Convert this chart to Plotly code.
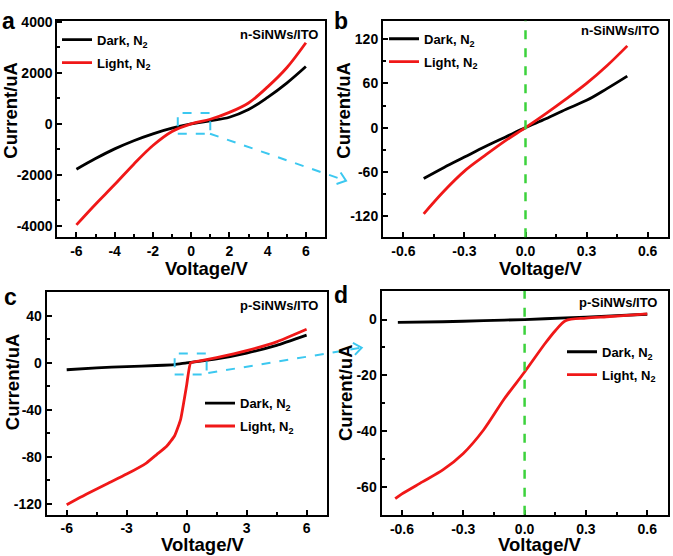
import math
import plotly.graph_objects as go

W, H = 673, 556

# ---------------- data ----------------
# panel a: n-SiNWs/ITO, wide sweep
a_volt = [-6, -5, -4, -3, -2, -1, 0, 1, 2, 3, 4, 5, 6]
a_dark = [-1780, -1360, -980, -660, -390, -170, 0, 120, 260, 560, 1040, 1600, 2250]
a_light = [-3960, -3150, -2380, -1580, -850, -300, 0, 180, 450, 820, 1450, 2200, 3180]

# panel b: n-SiNWs/ITO, zoom
b_volt = [-0.5, -0.4, -0.3, -0.2, -0.1, 0.0, 0.1, 0.2, 0.3, 0.4, 0.5]
b_dark = [-69, -54, -40, -26, -13, 0, 12, 25, 37, 53, 70]
b_light = [-117, -86, -59, -38, -18, 0, 19, 39, 60, 84, 111]

# panel c: p-SiNWs/ITO, wide sweep
c_dark_volt = [-6, -4.5, -3, -1.5, -0.6, 0, 0.6, 1.5, 3, 4.5, 6]
c_dark = [-5.9, -4.3, -3.2, -2.3, -1.5, 0, 1.2, 3.3, 8.3, 14.8, 23.5]
c_light_volt = [-6, -5, -4, -3, -2, -1.5, -1, -0.6, -0.3, 0, 0.2, 0.6, 1.5, 3, 4.5, 6]
c_light = [-120.6, -111.5, -103, -94.6, -85, -78, -71, -62, -48, -19, 0, 1.5, 4.5, 10.4, 17.8, 28.5]

# panel d: p-SiNWs/ITO, zoom
d_dark_volt = [-0.62, -0.4, -0.2, 0.0, 0.2, 0.4, 0.6]
d_dark = [-1.0, -0.8, -0.4, 0.0, 0.6, 1.2, 1.9]
d_light_volt = [-0.633, -0.6, -0.5, -0.4, -0.3, -0.2, -0.1, 0.0, 0.1, 0.15, 0.2, 0.3, 0.4, 0.5, 0.6]
d_light = [-64.2, -62.5, -58.2, -53.9, -48, -39.5, -28.5, -18.8, -8.6, -4, -0.4, 0.5, 1.0, 1.5, 2.0]

# tick values / labels
a_xticks = [-6, -4, -2, 0, 2, 4, 6]
a_xlabels = ["-6", "-4", "-2", "0", "2", "4", "6"]
a_yticks = [-4000, -2000, 0, 2000, 4000]
a_ylabels = ["-4000", "-2000", "0", "2000", "4000"]
b_xticks = [-0.6, -0.3, 0.0, 0.3, 0.6]
b_xlabels = ["-0.6", "-0.3", "0.0", "0.3", "0.6"]
b_yticks = [-120, -60, 0, 60, 120]
b_ylabels = ["-120", "-60", "0", "60", "120"]
c_xticks = [-6, -3, 0, 3, 6]
c_xlabels = ["-6", "-3", "0", "3", "6"]
c_yticks = [-120, -80, -40, 0, 40]
c_ylabels = ["-120", "-80", "-40", "0", "40"]
d_xticks = [-0.6, -0.3, 0.0, 0.3, 0.6]
d_xlabels = ["-0.6", "-0.3", "0.0", "0.3", "0.6"]
d_yticks = [-60, -40, -20, 0]
d_ylabels = ["-60", "-40", "-20", "0"]

series_names = ["Dark, N<sub>2</sub>", "Light, N<sub>2</sub>"]
sample_labels = ["n-SiNWs/ITO", "n-SiNWs/ITO", "p-SiNWs/ITO", "p-SiNWs/ITO"]
panel_letters = ["a", "b", "c", "d"]

# ---------------- style ----------------
FONT = "Liberation Sans, Arial, sans-serif"
BLACK = "#000000"
RED = "#f01818"
CYAN = "#3cc8f0"
GREEN = "#3cd23c"


def px(x):
    return x / W


def py(y):
    return 1 - y / H


fig = go.Figure()

panels = [
    ("x", "y", "legend", a_volt, a_dark, a_volt, a_light, 1.0),
    ("x2", "y2", "legend2", b_volt, b_dark, b_volt, b_light, 1.0),
    ("x3", "y3", "legend3", c_dark_volt, c_dark, c_light_volt, c_light, 0.4),
    ("x4", "y4", "legend4", d_dark_volt, d_dark, d_light_volt, d_light, 0.8),
]
for i, (xa, ya, lg, xd, yd, xl, yl, sm) in enumerate(panels):
    fig.add_trace(go.Scatter(x=xd, y=yd, mode="lines", name=series_names[0],
                             line=dict(color=BLACK, width=2.8, shape="spline", smoothing=sm),
                             xaxis=xa, yaxis=ya, legend=lg, legendgroup=f"d{i}"))
    fig.add_trace(go.Scatter(x=xl, y=yl, mode="lines", name=series_names[1],
                             line=dict(color=RED, width=2.8, shape="spline", smoothing=sm),
                             xaxis=xa, yaxis=ya, legend=lg, legendgroup=f"l{i}"))

# domains in pixels (left, right, top, bottom)
dom = {
    1: (57.3, 325.0, 14.0, 233.3),
    2: (383.0, 668.0, 14.0, 233.3),
    3: (46.7, 326.6, 288.3, 514.0),
    4: (381.5, 667.7, 287.7, 514.3),
}
xr = {1: [-7, 7], 2: [-0.7, 0.7], 3: [-7, 7], 4: [-0.7, 0.7]}
yr = {1: [-4450, 4040], 2: [-149, 145], 3: [-129, 60.5], 4: [-70, 10.2]}
xt = {1: (a_xticks, a_xlabels, 1), 2: (b_xticks, b_xlabels, 0.15),
      3: (c_xticks, c_xlabels, 1.5), 4: (d_xticks, d_xlabels, 0.15)}
yt = {1: (a_yticks, a_ylabels, 1000), 2: (b_yticks, b_ylabels, 30),
      3: (c_yticks, c_ylabels, 20), 4: (d_yticks, d_ylabels, 10)}

tickfont = dict(family=FONT, size=14, color=BLACK, weight="bold")
common = dict(showline=True, mirror=True, linecolor=BLACK, linewidth=2,
              ticks="inside", ticklen=5, tickwidth=1.5, tickcolor=BLACK,
              showgrid=False, zeroline=False, tickfont=tickfont, fixedrange=True)

layout = {}
for k in range(1, 5):
    l, r, t, b = dom[k]
    sx = "" if k == 1 else str(k)
    tv, tt, mdt = xt[k]
    layout[f"xaxis{sx}"] = dict(domain=[px(l), px(r)], range=xr[k], anchor=f"y{sx}",
                                tickmode="array", tickvals=tv, ticktext=tt,
                                minor=dict(tickmode="linear", tick0=0, dtick=mdt, ticks="inside",
                                           ticklen=3, tickwidth=1.5, tickcolor=BLACK),
                                **common)
    tv, tt, mdt = yt[k]
    layout[f"yaxis{sx}"] = dict(domain=[py(b), py(t)], range=yr[k], anchor=f"x{sx}",
                                tickmode="array", tickvals=tv, ticktext=tt,
                                minor=dict(tickmode="linear", tick0=0, dtick=mdt, ticks="inside",
                                           ticklen=3, tickwidth=1.5, tickcolor=BLACK),
                                **common)

legfont = dict(family=FONT, size=13, color=BLACK, weight="bold")
leg_pos = {"legend": (57, 18), "legend2": (384, 17), "legend3": (200, 386), "legend4": (562, 334)}
for name, (lx, ly) in leg_pos.items():
    layout[name] = dict(x=px(lx), y=py(ly), xanchor="left", yanchor="top",
                        bgcolor="rgba(0,0,0,0)", borderwidth=0, font=legfont,
                        tracegroupgap=3, itemclick=False, itemdoubleclick=False)

fig.update_layout(width=W, height=H, margin=dict(l=0, r=0, t=0, b=0),
                  paper_bgcolor="white", plot_bgcolor="white", showlegend=True,
                  **layout)

annotations = []
for letter, (lx, ly) in zip(panel_letters, [(8, 14), (341, 14), (10, 294), (341, 292)]):
    annotations.append(dict(text=letter, x=px(lx), y=py(ly), xref="paper", yref="paper",
                            xanchor="center", yanchor="middle", showarrow=False,
                            font=dict(family=FONT, size=23, color=BLACK, weight="bold")))
for lab, (lx, ly) in zip(sample_labels, [(320, 28), (661, 24), (320, 302), (659, 299)]):
    annotations.append(dict(text=lab, x=px(lx), y=py(ly), xref="paper", yref="paper",
                            xanchor="right", yanchor="middle", showarrow=False,
                            font=dict(family=FONT, size=13, color=BLACK, weight="bold")))
titlefont = dict(family=FONT, size=18.5, color=BLACK, weight="bold")
for (lx, ly) in [(207, 265), (541, 265), (203, 544), (540, 544)]:
    annotations.append(dict(text="Voltage/V", x=px(lx), y=py(ly), xref="paper", yref="paper",
                            xanchor="center", yanchor="middle", showarrow=False, font=titlefont))
for (lx, ly) in [(11, 105), (344, 105), (12, 380), (345, 390)]:
    annotations.append(dict(text="Current/uA", x=px(lx), y=py(ly), xref="paper", yref="paper",
                            xanchor="center", yanchor="middle", textangle=-90,
                            showarrow=False, font=titlefont))
fig.update_layout(annotations=annotations)

shapes = []
for xa, ya in [("x2", "y2"), ("x4", "y4")]:
    shapes.append(dict(type="line", xref=xa, yref=f"{ya} domain", x0=0, x1=0, y0=0, y1=1,
                       line=dict(color=GREEN, width=2.5, dash="dash")))
shapes.append(dict(type="rect", xref="x", yref="y", x0=-0.7, x1=1.0, y0=-390, y1=425,
                   line=dict(color=CYAN, width=2, dash="dash")))
shapes.append(dict(type="rect", xref="x3", yref="y3", x0=-0.6, x1=1.0, y0=-10, y1=8,
                   line=dict(color=CYAN, width=2, dash="dash")))


def arrow(x0, y0, x1, y1):
    out = [dict(type="line", xref="paper", yref="paper", x0=px(x0), y0=py(y0), x1=px(x1), y1=py(y1),
                line=dict(color=CYAN, width=2, dash="dash"))]
    ang = math.atan2(y1 - y0, x1 - x0)
    L = 10
    pts = []
    for s in (1, -1):
        a = ang + math.pi + s * math.radians(38)
        pts.append((x1 + L * math.cos(a), y1 + L * math.sin(a)))
    path = (f"M{px(pts[0][0])},{py(pts[0][1])} L{px(x1)},{py(y1)} "
            f"L{px(pts[1][0])},{py(pts[1][1])}")
    out.append(dict(type="path", xref="paper", yref="paper", path=path,
                    line=dict(color=CYAN, width=2)))
    return out


shapes += arrow(210, 128.3, 346, 176)
shapes += arrow(208.3, 370.7, 361.7, 345)
fig.update_layout(shapes=shapes)

post = ("document.body.style.margin='0px';document.body.style.padding='0px';"
        "document.body.style.overflow='hidden';"
        "var gd=document.getElementById('{plot_id}');"
        "gd.style.position='absolute';gd.style.left='0px';gd.style.top='0px';")
fig.write_html("out.html", config={"displayModeBar": False}, post_script=post)
